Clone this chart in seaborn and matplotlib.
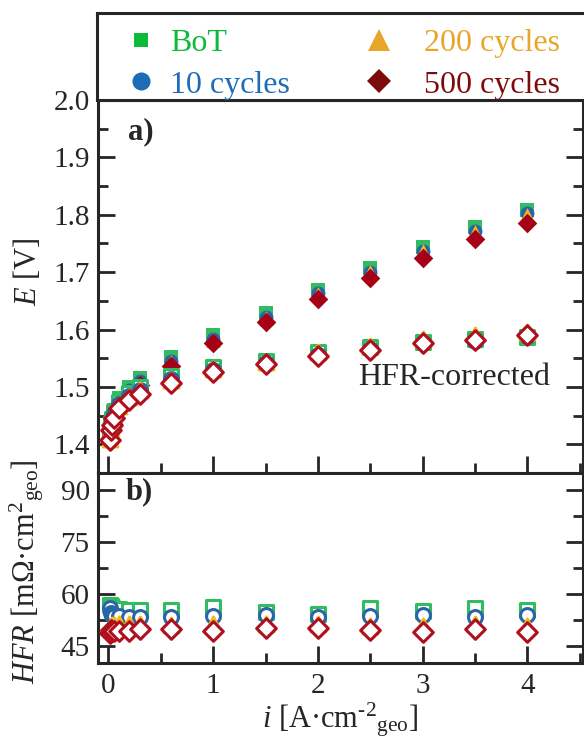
import numpy as np
import pandas as pd
import matplotlib
matplotlib.use("Agg")
import matplotlib.pyplot as plt
from matplotlib.lines import Line2D
from matplotlib.ticker import MultipleLocator, FormatStrFormatter
import seaborn as sns

# ---------------- data ----------------
current = [0.01, 0.02, 0.03, 0.05, 0.1, 0.2, 0.3, 0.6, 1.0, 1.5, 2.0, 2.5, 3.0, 3.5, 4.0]

E_bot = [1.418, 1.436, 1.446, 1.460, 1.480, 1.500, 1.516, 1.552, 1.590, 1.628, 1.669, 1.708, 1.744, 1.779, 1.809]
E_10 = [1.414, 1.432, 1.442, 1.455, 1.475, 1.495, 1.511, 1.546, 1.584, 1.622, 1.663, 1.700, 1.737, 1.771, 1.803]
E_200 = [1.411, 1.429, 1.439, 1.452, 1.472, 1.492, 1.509, 1.543, 1.582, 1.620, 1.662, 1.700, 1.736, 1.770, 1.800]
E_500 = [1.408, 1.426, 1.436, 1.448, 1.468, 1.487, 1.504, 1.537, 1.577, 1.614, 1.653, 1.690, 1.725, 1.757, 1.786]

Ecorr_bot = [1.417, 1.435, 1.444, 1.457, 1.474, 1.489, 1.499, 1.519, 1.534, 1.546, 1.560, 1.569, 1.579, 1.584, 1.587]
Ecorr_10 = [1.413, 1.431, 1.440, 1.452, 1.470, 1.484, 1.495, 1.514, 1.530, 1.541, 1.556, 1.566, 1.576, 1.580, 1.588]
Ecorr_200 = [1.410, 1.428, 1.437, 1.449, 1.467, 1.482, 1.494, 1.512, 1.531, 1.543, 1.560, 1.572, 1.583, 1.591, 1.596]
Ecorr_500 = [1.407, 1.425, 1.434, 1.446, 1.463, 1.477, 1.487, 1.507, 1.526, 1.540, 1.554, 1.565, 1.577, 1.581, 1.591]

HFR_bot = [56.8, 56.5, 56.0, 55.6, 55.5, 55.3, 55.2, 55.3, 56.3, 54.8, 54.2, 56.0, 55.0, 56.0, 55.3]
HFR_10 = [55.9, 54.5, 54.0, 53.6, 53.5, 53.4, 53.4, 53.4, 53.6, 53.9, 53.2, 53.6, 53.9, 53.2, 53.8]
HFR_200 = [50.0, 50.8, 51.0, 51.0, 51.2, 51.2, 51.3, 51.0, 51.2, 51.3, 51.2, 50.8, 50.8, 51.2, 50.8]
HFR_500 = [48.8, 49.6, 49.3, 49.2, 49.2, 49.2, 49.8, 49.8, 49.4, 50.1, 50.1, 49.6, 49.1, 49.8, 49.1]

labels = ["BoT", "10 cycles", "200 cycles", "500 cycles"]
E_raw = [E_bot, E_10, E_200, E_500]
E_corr = [Ecorr_bot, Ecorr_10, Ecorr_200, Ecorr_500]
HFR = [HFR_bot, HFR_10, HFR_200, HFR_500]

# ---------------- style ----------------
sns.set_style("ticks")
plt.rcParams["font.family"] = ["Liberation Serif", "DejaVu Serif"]
plt.rcParams["mathtext.fontset"] = "custom"
plt.rcParams["mathtext.rm"] = "Liberation Serif"
plt.rcParams["mathtext.it"] = "Liberation Serif:italic"
plt.rcParams["mathtext.bf"] = "Liberation Serif:bold"

markers = ["s", "o", "^", "D"]
plot_colors = ["#30BC60", "#2A65A8", "#F2B81C", "#A50016"]
edge_colors = ["#30BC60", "#2A65A8", "#F2B81C", "#B0101E"]
legend_colors = ["#0CBB3A", "#1C6DB5", "#E8A52A", "#7D0B0B"]
sizes = [100, 100, 115, 100]

fig = plt.figure(figsize=(5.84, 7.39), dpi=100)
W, H = 584.0, 739.0
ax_a = fig.add_axes([98 / W, 1 - 473 / H, 485 / W, 373 / H])
ax_b = fig.add_axes([98 / W, 1 - 663 / H, 485 / W, 190 / H])
ax_leg = fig.add_axes([97 / W, 1 - 100 / H, 500 / W, 87 / H])

# ---------------- panel a ----------------
for k in range(4):
    sns.scatterplot(x=current, y=E_raw[k], ax=ax_a, marker=markers[k], s=sizes[k],
                    color=plot_colors[k], linewidth=0, zorder=3 + k)
for k in range(4):
    sns.scatterplot(x=current, y=E_corr[k], ax=ax_a, marker=markers[k], s=sizes[k],
                    color="white", edgecolor=edge_colors[k], linewidth=2.2, zorder=8 + k)

# ---------------- panel b ----------------
for k in range(4):
    sns.scatterplot(x=current, y=HFR[k], ax=ax_b, marker=markers[k], s=sizes[k],
                    color="white", edgecolor=edge_colors[k], linewidth=2.2, zorder=3 + k)

for ax in (ax_a, ax_b):
    ax.set_xlim(-0.1, 4.53)
    ax.xaxis.set_major_locator(MultipleLocator(1))
    ax.xaxis.set_minor_locator(MultipleLocator(0.5))
    ax.tick_params(which="major", direction="in", length=12, width=2,
                   right=True, top=False, labelsize=21, pad=6)
    ax.tick_params(which="minor", direction="in", length=7, width=2,
                   right=True, top=False)
    for sp in ax.spines.values():
        sp.set_linewidth(2.2)
        sp.set_visible(True)
    ax.set_xlabel("")
    ax.set_ylabel("")

ax_a.set_ylim(1.35, 2.0)
ax_a.yaxis.set_major_locator(MultipleLocator(0.1))
ax_a.yaxis.set_minor_locator(MultipleLocator(0.05))
ax_a.yaxis.set_major_formatter(FormatStrFormatter("%.1f"))
ax_a.tick_params(axis="x", labelbottom=False)

ax_b.set_ylim(40, 95)
ax_b.yaxis.set_major_locator(MultipleLocator(15))
ax_b.yaxis.set_minor_locator(MultipleLocator(7.5))
ax_b.tick_params(axis="x", pad=7)

ax_a.set_ylabel(r"$E$ [V]", fontsize=22)
ax_a.yaxis.set_label_coords(-0.113, 0.54)
ax_b.set_ylabel("$HFR$ [m\u03A9\u00B7cm$^{2}{}_{\\text{geo}}$]", fontsize=22)
ax_b.yaxis.set_label_coords(-0.108, 0.48)
ax_b.set_xlabel("$i$ [A\u00B7cm$^{\\text{-2}}{}_{\\text{geo}}$]", fontsize=22)
ax_b.xaxis.set_label_coords(0.5, -0.198)

ax_a.text(0.062, 0.914, "a)", transform=ax_a.transAxes, fontsize=22,
          fontweight="bold", va="center", ha="left")
ax_b.text(0.056, 0.90, "b)", transform=ax_b.transAxes, fontsize=22,
          fontweight="bold", va="center", ha="left")
ax_a.text(0.536, 0.257, "HFR-corrected", transform=ax_a.transAxes, fontsize=23,
          va="center", ha="left")

# ---------------- legend box ----------------
ax_leg.set_xticks([])
ax_leg.set_yticks([])
for sp in ax_leg.spines.values():
    sp.set_linewidth(2.2)
ms = [10, 13, 16, 12]
handles = [Line2D([], [], linestyle="none", marker=markers[k], markersize=ms[k],
                  color=legend_colors[k], markeredgewidth=0) for k in range(4)]
leg1 = ax_leg.legend(handles[:2], labels[:2], loc="center left",
                     bbox_to_anchor=(12 / 500, 0.41), frameon=False, fontsize=23,
                     borderpad=0, handlelength=1.0, handletextpad=0.4,
                     labelspacing=0.37, labelcolor=legend_colors[:2])
ax_leg.add_artist(leg1)
leg2 = ax_leg.legend(handles[2:], labels[2:], loc="center left",
                     bbox_to_anchor=(250 / 500, 0.41), frameon=False, fontsize=23,
                     borderpad=0, handlelength=1.0, handletextpad=0.9,
                     labelspacing=0.37, labelcolor=legend_colors[2:])

fig.savefig("out.png", dpi=100)
